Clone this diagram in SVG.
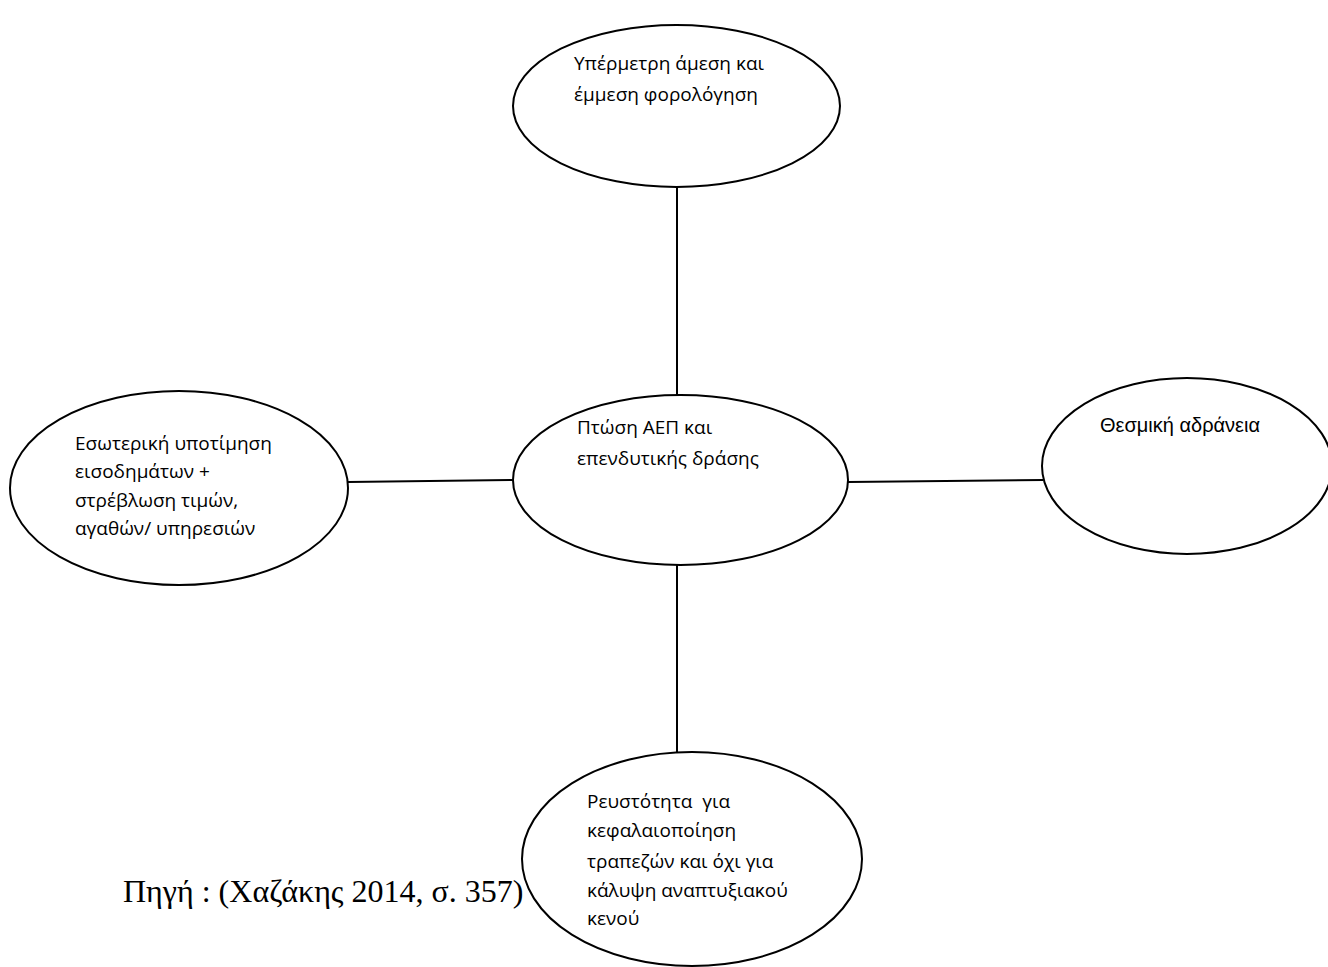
<svg xmlns="http://www.w3.org/2000/svg" width="1328" height="967" viewBox="0 0 1328 967">
<style>
.n{fill:#fff;stroke:#000;stroke-width:2}
.c{stroke:#000;stroke-width:2;fill:none}
.t{font-family:"Open Sans","Noto Sans",sans-serif;font-size:19px;fill:#000}
.a{font-family:"Liberation Sans",Arial,sans-serif;font-size:20px;fill:#000}
.s{font-family:"Liberation Serif","Times New Roman",serif;font-size:32px;fill:#000}
</style>
<rect width="1328" height="967" fill="#fff"/>
<g id="connectors">
<line class="c" x1="677" y1="187" x2="677" y2="395"/>
<line class="c" x1="677" y1="565" x2="677" y2="752"/>
<line class="c" x1="348" y1="482" x2="513" y2="480"/>
<line class="c" x1="848" y1="482" x2="1043" y2="480"/>
</g>
<g id="node-top">
<ellipse class="n" cx="676.5" cy="106" rx="163.5" ry="81"/>
<text class="t" x="574" y="70">Υπέρμετρη άμεση και</text>
<text class="t" x="574" y="101">έμμεση φορολόγηση</text>
</g>
<g id="node-center">
<ellipse class="n" cx="680.5" cy="480" rx="167.5" ry="85"/>
<text class="t" x="577" y="434">Πτώση ΑΕΠ και</text>
<text class="t" x="577" y="465">επενδυτικής δράσης</text>
</g>
<g id="node-left">
<ellipse class="n" cx="179" cy="488" rx="169" ry="97"/>
<text class="t" x="75" y="450">Εσωτερική υποτίμηση</text>
<text class="t" x="75" y="478">εισοδημάτων +</text>
<text class="t" x="75" y="507">στρέβλωση τιμών,</text>
<text class="t" x="75" y="535">αγαθών/ υπηρεσιών</text>
</g>
<g id="node-right">
<ellipse class="n" cx="1187" cy="466" rx="145" ry="88"/>
<text class="a" x="1100" y="432">Θεσμική αδράνεια</text>
</g>
<g id="node-bottom">
<ellipse class="n" cx="692" cy="859" rx="170" ry="107"/>
<text class="t" x="587" y="808">Ρευστότητα&#160; για</text>
<text class="t" x="587" y="837">κεφαλαιοποίηση</text>
<text class="t" x="587" y="868">τραπεζών και όχι για</text>
<text class="t" x="587" y="897">κάλυψη αναπτυξιακού</text>
<text class="t" x="587" y="925">κενού</text>
</g>
<g id="source">
<text class="s" x="123" y="902">Πηγή : (Χαζάκης 2014, σ. 357)</text>
</g>
</svg>
